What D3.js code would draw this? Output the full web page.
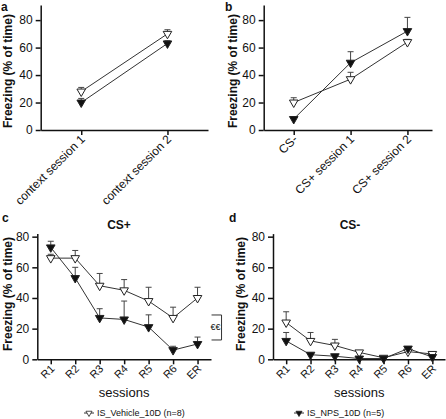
<!DOCTYPE html>
<html><head><meta charset="utf-8">
<script src="https://cdn.jsdelivr.net/npm/d3@7"></script>
<style>
body{margin:0;background:#fff;}
svg{display:block;font-family:"Liberation Sans",Arial,Helvetica,sans-serif;}
</style></head>
<body>
<svg id="chart" width="446" height="419"></svg>
<script>
// ---- data ----
const catsA = ["context session 1", "context session 2"];
const vehA = [28, 70];
const vehAErr = [3, 3];
const npsA = [20, 63];
const npsAErr = [3, 2];

const catsB = ["CS-", "CS+ session 1", "CS+ session 2"];
const vehB = [20, 37, 64];
const vehBErr = [3.5, 5, 2];
const npsB = [8, 49, 72];
const npsBErr = [1, 8, 10];

const catsCD = ["R1", "R2", "R3", "R4", "R5", "R6", "ER"];
const vehC = [66, 66, 48, 45, 38, 27, 40];
const vehCErr = [2.5, 5, 8, 7, 9, 7, 7];
const npsC = [73, 53, 27, 26, 21, 6, 10];
const npsCErr = [4, 7, 6, 12, 8, 2.5, 4.5];

const vehD = [24, 12, 9, 4.5, 1, 5, 3.5];
const vehDErr = [7, 5.5, 4, 1, 0.8, 2, 1];
const npsD = [12, 3, 2, 0.5, 0.5, 7, 1.5];
const npsDErr = [5.5, 1, 0.5, 0.3, 0.3, 1.2, 0.5];

const yTicks = [0, 20, 40, 60, 80];
const legendLabels = ["IS_Vehicle_10D (n=8)", "IS_NPS_10D (n=5)"];
const yLabel = "Freezing (% of time)";

// ---- drawing ----
const svg = d3.select("#chart");
const triangle = d3.symbol().type(d3.symbolTriangle).size(32);

function panel(cfg) {
  const g = svg.append("g");
  const x = d3.scalePoint().domain(cfg.cats).range([cfg.x0, cfg.x1]).padding(cfg.pad).align(cfg.align);
  const y = d3.scaleLinear().domain([0, cfg.ymax]).range([cfg.yb, cfg.yt]);

  // y axis
  const ya = g.append("g").attr("transform", `translate(${cfg.x0},0)`)
    .call(d3.axisLeft(y).tickValues(yTicks).tickSize(5).tickPadding(3).tickSizeOuter(0));
  ya.select(".domain").attr("stroke", "#111").attr("stroke-width", 1.5);
  ya.selectAll(".tick line").attr("stroke", "#111").attr("stroke-width", 1.5);
  ya.selectAll(".tick text").attr("font-size", 12).attr("fill", "#111")
    .attr("font-family", "Liberation Sans, Arial, sans-serif");

  // x axis
  const xa = g.append("g").attr("transform", `translate(0,${cfg.yb})`)
    .call(d3.axisBottom(x).tickSize(5).tickPadding(3).tickSizeOuter(0));
  xa.select(".domain").attr("stroke", "#111").attr("stroke-width", 1.5);
  xa.selectAll(".tick line").attr("stroke", "#111").attr("stroke-width", 1.5);
  xa.selectAll(".tick text").attr("font-size", cfg.xfs).attr("fill", "#111")
    .attr("font-family", "Liberation Sans, Arial, sans-serif")
    .attr("text-anchor", "end")
    .attr("dy", null)
    .attr("transform", `translate(4,${cfg.xdy}) rotate(-45)`)
    .attr("y", 0).attr("x", 0);

  // y label
  g.append("text")
    .attr("transform", `translate(${cfg.ylx},${(cfg.yb + y(80)) / 2 - 4}) rotate(-90)`)
    .attr("text-anchor", "middle").attr("dominant-baseline", "central")
    .attr("font-size", 12).attr("font-weight", "bold").attr("fill", "#111")
    .text(yLabel);

  // panel letter
  g.append("text").attr("x", cfg.lx).attr("y", cfg.ly)
    .attr("font-size", 12).attr("font-weight", "bold").attr("fill", "#111").text(cfg.letter);

  if (cfg.title) {
    g.append("text").attr("x", cfg.tx).attr("y", cfg.ty).attr("text-anchor", "middle")
      .attr("font-size", 12).attr("font-weight", "bold").attr("fill", "#111").text(cfg.title);
  }
  if (cfg.xtitle) {
    g.append("text").attr("x", (x(cfg.cats[0]) + x(cfg.cats[cfg.cats.length - 1])) / 2)
      .attr("y", 397).attr("text-anchor", "middle")
      .attr("font-size", 13).attr("fill", "#111").text(cfg.xtitle);
  }

  const line = d3.line().x((d, i) => x(cfg.cats[i])).y(d => y(d));
  const series = [
    {vals: cfg.veh, err: cfg.vehErr, fill: "#fff"},
    {vals: cfg.nps, err: cfg.npsErr, fill: "#111"}
  ];
  series.forEach(s => {
    g.append("path").datum(s.vals).attr("d", line)
      .attr("fill", "none").attr("stroke", "#333").attr("stroke-width", 1);
  });
  series.forEach(s => {
    const eb = g.append("g");
    s.vals.forEach((v, i) => {
      const cx = x(cfg.cats[i]);
      eb.append("line").attr("x1", cx).attr("x2", cx).attr("y1", y(v)).attr("y2", y(v + s.err[i]))
        .attr("stroke", "#444").attr("stroke-width", 1);
      eb.append("line").attr("x1", cx - 3).attr("x2", cx + 3).attr("y1", y(v + s.err[i])).attr("y2", y(v + s.err[i]))
        .attr("stroke", "#444").attr("stroke-width", 1);
    });
  });
  series.forEach(s => {
    g.append("g").selectAll("path").data(s.vals).join("path")
      .attr("d", triangle)
      .attr("transform", (d, i) => `translate(${x(cfg.cats[i])},${y(d)}) rotate(180)`)
      .attr("fill", s.fill).attr("stroke", "#222").attr("stroke-width", 1);
  });
  return {x, y, g};
}

panel({cats: catsA, veh: vehA, vehErr: vehAErr, nps: npsA, npsErr: npsAErr,
  x0: 40.7, x1: 208, pad: 0.47, align: 0.5, yb: 130, yt: 5, ymax: 91,
  xfs: 12, xdy: 10, ylx: 8, lx: 1, ly: 11, letter: "a"});

panel({cats: catsB, veh: vehB, vehErr: vehBErr, nps: npsB, npsErr: npsBErr,
  x0: 263.7, x1: 432, pad: 0.48, align: 0.55, yb: 130, yt: 5, ymax: 91,
  xfs: 12, xdy: 10, ylx: 233, lx: 225, ly: 11, letter: "b"});

const pc = panel({cats: catsCD, veh: vehC, vehErr: vehCErr, nps: npsC, npsErr: npsCErr,
  x0: 37.3, x1: 211, pad: 0.55, align: 0.5, yb: 359.3, yt: 233.6, ymax: 82,
  xfs: 11, xdy: 10, ylx: 8, lx: 2, ly: 222, letter: "c", title: "CS+", tx: 119, ty: 229,
  xtitle: "sessions"});

panel({cats: catsCD, veh: vehD, vehErr: vehDErr, nps: npsD, npsErr: npsDErr,
  x0: 273, x1: 445, pad: 0.53, align: 0.51, yb: 359.3, yt: 233.6, ymax: 82,
  xfs: 11, xdy: 10, ylx: 241, lx: 229, ly: 222, letter: "d", title: "CS-", tx: 350, ty: 229,
  xtitle: "sessions"});

// significance bracket on panel c
const bx = pc.x("ER") + 24;
const bt = pc.y(vehC[6]) + 17, bb = pc.y(npsC[6]) - 4;
pc.g.append("path").attr("d", `M${bx - 10},${bt}H${bx}V${bb}H${bx - 10}`)
  .attr("fill", "none").attr("stroke", "#333").attr("stroke-width", 1);
pc.g.append("text").attr("x", bx - 6).attr("y", (bt + bb) / 2).attr("text-anchor", "middle")
  .attr("dominant-baseline", "central").attr("font-size", 9).attr("fill", "#111").text("€€");

// legends
function legend(cx, fill, label) {
  const lg = svg.append("g");
  lg.append("line").attr("x1", cx - 5).attr("x2", cx + 5).attr("y1", 413).attr("y2", 413)
    .attr("stroke", "#333").attr("stroke-width", 1);
  lg.append("path").attr("d", d3.symbol().type(d3.symbolTriangle).size(16))
    .attr("transform", `translate(${cx},413) rotate(180)`)
    .attr("fill", fill).attr("stroke", "#222").attr("stroke-width", 0.8);
  lg.append("text").attr("x", cx + 8).attr("y", 416).attr("font-size", 9).attr("fill", "#111").text(label);
}
legend(89, "#fff", legendLabels[0]);
legend(299, "#111", legendLabels[1]);
</script>
</body></html>
